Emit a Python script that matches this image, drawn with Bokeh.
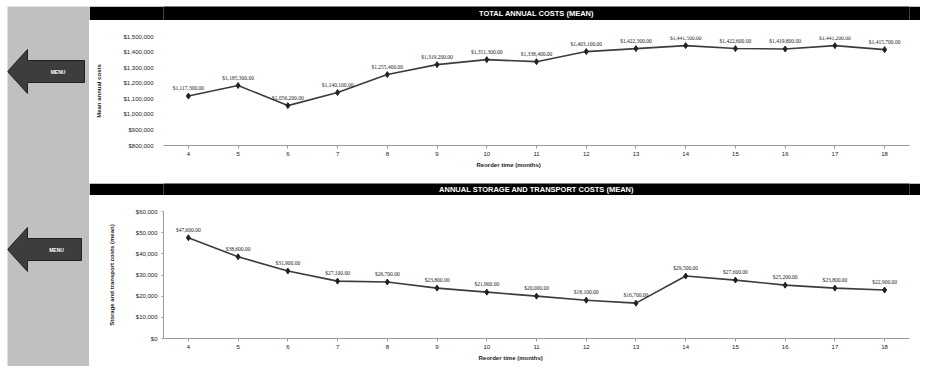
from bokeh.plotting import figure
from bokeh.layouts import row, column
from bokeh.models import (FactorRange, Range1d, FixedTicker, NumeralTickFormatter,
                          ColumnDataSource, Title, Label, LabelSet)
from bokeh.embed import file_html
from bokeh.resources import INLINE

# ---------------- data ----------------
reorder_months = ["4", "5", "6", "7", "8", "9", "10", "11", "12", "13", "14", "15", "16", "17", "18"]
total_costs = [1117300, 1185300, 1056200, 1140100, 1255400, 1319200, 1351300, 1338400,
               1403100, 1422300, 1441500, 1422600, 1419800, 1441200, 1415700]
storage_transport_costs = [47600, 38600, 31900, 27100, 26700, 23800, 21900, 20000,
                           18100, 16700, 29500, 27600, 25200, 23800, 22900]
total_ticks = [800000, 900000, 1000000, 1100000, 1200000, 1300000, 1400000, 1500000]
st_ticks = [0, 10000, 20000, 30000, 40000, 50000, 60000]

title_top = "TOTAL ANNUAL COSTS (MEAN)"
title_bottom = "ANNUAL STORAGE AND TRANSPORT COSTS (MEAN)"
x_title = "Reorder time (months)"
y_title_top = "Mean annual costs"
y_title_bottom = "Storage and transport costs (mean)"

FONT = "Liberation Sans"
LINE = "#3c3c3c"
GRAY_PANEL = "#c0c0c0"


def fmt_money(v):
    return "${:,.2f}".format(v)


# ---------------- menu side panel ----------------
menu = figure(width=82, height=360, x_range=Range1d(0, 82), y_range=Range1d(360, 0),
              x_axis_type=None, y_axis_type=None, toolbar_location=None,
              output_backend="svg", min_border=0, outline_line_color=None,
              background_fill_color=GRAY_PANEL, border_fill_color=GRAY_PANEL)
menu.grid.visible = False
for tip_y, right_x in [(65, 77), (243, 74)]:
    xs = [0, 20, 20, right_x, right_x, 20, 20]
    ys = [tip_y, tip_y - 22, tip_y - 11, tip_y - 11, tip_y + 11, tip_y + 11, tip_y + 22]
    menu.patch(xs, ys, fill_color="#3d3d3d", line_color="#222222", line_width=1)
    menu.add_layout(Label(x=(20 + right_x) / 2 + 2, y=tip_y, text="MENU", text_color="white",
                          text_font=FONT, text_font_size="5px", text_font_style="bold",
                          text_align="center", text_baseline="middle"))


def title_bar(text, h):
    b = figure(width=831, height=h, x_range=Range1d(0, 1), y_range=Range1d(0, 1),
               x_axis_type=None, y_axis_type=None, toolbar_location=None,
               output_backend="svg", min_border=0, outline_line_color=None,
               background_fill_color="black", border_fill_color="black")
    b.grid.visible = False
    b.add_layout(Label(x=0.5, y=0.5, text=text, text_color="white", text_font=FONT,
                       text_font_size="7.5px", text_font_style="bold",
                       text_align="center", text_baseline="middle"))
    return b


def style_chart(p, ticks, fmt, ytitle, yaxis_line, title_offset):
    p.grid.visible = False
    p.yaxis.ticker = FixedTicker(ticks=ticks)
    p.yaxis.formatter = NumeralTickFormatter(format=fmt)
    p.yaxis.axis_label = ytitle
    p.yaxis.axis_label_text_font = FONT
    p.yaxis.axis_label_text_font_size = "6px"
    p.yaxis.axis_label_text_font_style = "bold"
    p.yaxis.axis_label_text_color = "#222222"
    p.yaxis.axis_label_standoff = 18
    p.yaxis.major_label_text_font = FONT
    p.yaxis.major_label_text_font_size = "6px"
    p.yaxis.major_label_text_color = "#222222"
    p.yaxis.major_label_standoff = 4
    p.yaxis.minor_tick_line_color = None
    if yaxis_line:
        p.yaxis.axis_line_color = "#9a9a9a"
        p.yaxis.major_tick_line_color = "#9a9a9a"
        p.yaxis.major_tick_out = 2
        p.yaxis.major_tick_in = 0
    else:
        p.yaxis.axis_line_color = None
        p.yaxis.major_tick_line_color = None
    p.xaxis.axis_line_color = "#9a9a9a"
    p.xaxis.major_tick_line_color = "#9a9a9a"
    p.xaxis.major_tick_out = 3
    p.xaxis.major_tick_in = 0
    p.xaxis.major_label_text_font = FONT
    p.xaxis.major_label_text_font_size = "6px"
    p.xaxis.major_label_text_color = "#222222"
    p.xaxis.major_label_standoff = 3
    p.add_layout(Title(text=x_title, align="left", offset=title_offset, text_font=FONT,
                       text_font_size="6px", text_font_style="bold",
                       text_color="#222222", standoff=2), "below")


def add_series(p, values):
    src = ColumnDataSource(dict(x=reorder_months, y=values,
                                lab=[fmt_money(v) for v in values]))
    p.line("x", "y", source=src, line_color=LINE, line_width=1.6)
    p.scatter("x", "y", source=src, marker="diamond", size=6, fill_color="#222222",
              line_color="#222222")
    p.add_layout(LabelSet(x="x", y="y", text="lab", source=src, y_offset=8,
                          text_align="center", text_baseline="middle",
                          text_font=FONT, text_font_size="5.5px", text_color="#222222"))


# ---------------- chart 1 ----------------
p1 = figure(width=831, height=163, x_range=FactorRange(factors=reorder_months),
            y_range=Range1d(800000, 1500000), toolbar_location=None,
            output_backend="svg", min_border_left=74, min_border_right=9,
            min_border_top=16, min_border_bottom=38, outline_line_color=None,
            background_fill_color="white", border_fill_color="white")
style_chart(p1, total_ticks, "$0,0", y_title_top, False, 313)
add_series(p1, total_costs)

# ---------------- chart 2 ----------------
p2 = figure(width=831, height=171, x_range=FactorRange(factors=reorder_months),
            y_range=Range1d(0, 60000), toolbar_location=None,
            output_backend="svg", min_border_left=70, min_border_right=11,
            min_border_top=16, min_border_bottom=28, outline_line_color=None,
            background_fill_color="white", border_fill_color="white")
style_chart(p2, st_ticks, "$0,0", y_title_bottom, True, 315)
add_series(p2, storage_transport_costs)

bar1 = title_bar(title_top, 14)
bar2 = title_bar(title_bottom, 12)

layout = row(menu, column(bar1, p1, bar2, p2, spacing=0), spacing=0)
layout.margin = (6, 0, 0, 7)

open("out.html", "w").write(file_html(layout, INLINE))
